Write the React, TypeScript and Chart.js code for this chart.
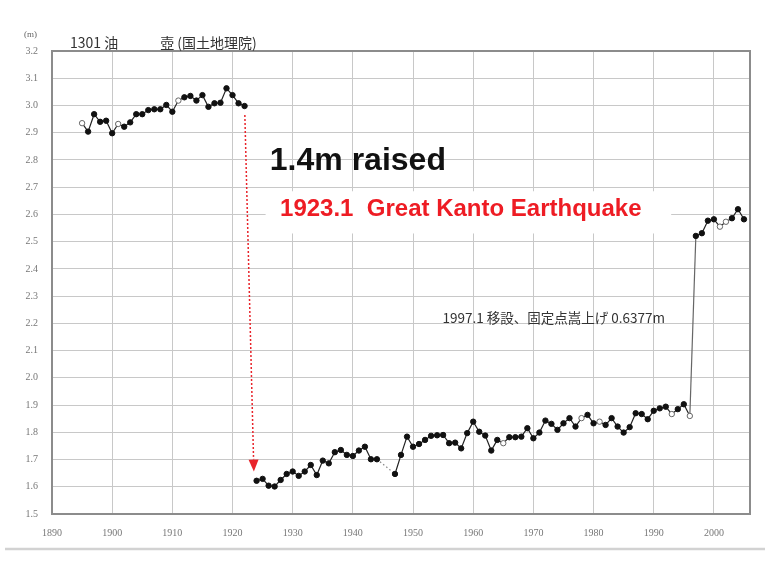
import React, { useEffect, useRef } from "react";
import { Chart, registerables } from "chart.js";

Chart.register(...registerables);

// ---- data ----
const preYears = [1895, 1896, 1897, 1898, 1899, 1900, 1901, 1902, 1903, 1904, 1905, 1906, 1907, 1908, 1909, 1910, 1911, 1912, 1913, 1914, 1915, 1916, 1917, 1918, 1919, 1920, 1921, 1922];
const preValues = [2.935, 2.904, 2.968, 2.94, 2.944, 2.898, 2.932, 2.922, 2.938, 2.968, 2.968, 2.983, 2.986, 2.986, 3.002, 2.977, 3.018, 3.03, 3.035, 3.018, 3.038, 2.995, 3.008, 3.01, 3.063, 3.038, 3.008, 2.998];

const postYears = [1924, 1925, 1926, 1927, 1928, 1929, 1930, 1931, 1932, 1933, 1934, 1935, 1936, 1937, 1938, 1939, 1940, 1941, 1942, 1943, 1944, 1947, 1948, 1949, 1950, 1951, 1952, 1953, 1954, 1955, 1956, 1957, 1958, 1959, 1960, 1961, 1962, 1963, 1964, 1965, 1966, 1967, 1968, 1969, 1970, 1971, 1972, 1973, 1974, 1975, 1976, 1977, 1978, 1979, 1980, 1981, 1982, 1983, 1984, 1985, 1986, 1987, 1988, 1989, 1990, 1991, 1992, 1993, 1994, 1995, 1996, 1997, 1998, 1999, 2000, 2001, 2002, 2003, 2004, 2005];
const postValues = [1.622, 1.629, 1.604, 1.601, 1.625, 1.647, 1.656, 1.64, 1.656, 1.68, 1.643, 1.696, 1.686, 1.727, 1.735, 1.717, 1.713, 1.733, 1.747, 1.701, 1.701, 1.647, 1.717, 1.784, 1.747, 1.757, 1.772, 1.787, 1.789, 1.79, 1.76, 1.762, 1.741, 1.797, 1.839, 1.802, 1.788, 1.733, 1.772, 1.76, 1.782, 1.782, 1.784, 1.815, 1.778, 1.799, 1.843, 1.831, 1.809, 1.833, 1.852, 1.821, 1.852, 1.864, 1.833, 1.839, 1.827, 1.852, 1.821, 1.799, 1.819, 1.87, 1.867, 1.848, 1.879, 1.888, 1.894, 1.867, 1.885, 1.903, 1.86, 2.521, 2.531, 2.577, 2.582, 2.555, 2.573, 2.586, 2.619, 2.582];

// years whose marker is drawn open (white)
const openYears = [1895, 1901, 1911, 1965, 1978, 1981, 1993, 1996, 2001, 2002];

const xMin = 1890;
const xMax = 2006;
const xStep = 10;
const yMin = 1.5;
const yMax = 3.2;
const yStep = 0.1;

const unitText = "(m)";
const titleText = "1301 油　　　壺 (国土地理院)";
const raisedText = "1.4m raised";
const quakeText = "1923.1  Great Kanto Earthquake";
const noteText = "1997.1 移設、固定点嵩上げ 0.6377m";

// arrow endpoints (year, value)
const arrowFrom = [1922.05, 2.965];
const arrowTo = [1923.55, 1.656];

const toPoints = (xs: number[], ys: number[]) => xs.map((x, i) => ({ x, y: ys[i] }));

const annotationPlugin = {
  id: "annotations",
  beforeDatasetsDraw(chart: any) {
    const { ctx, scales } = chart;
    const xs = scales.x;
    const ys = scales.y;
    // white box behind the red caption
    ctx.save();
    ctx.fillStyle = "#ffffff";
    const l = xs.getPixelForValue(1925.5);
    const r = xs.getPixelForValue(1992.9);
    const t = ys.getPixelForValue(2.685);
    const b = ys.getPixelForValue(2.53);
    ctx.fillRect(l, t, r - l, b - t);
    ctx.restore();
  },
  afterDatasetsDraw(chart: any) {
    const { ctx, scales, chartArea } = chart;
    const xs = scales.x;
    const ys = scales.y;
    ctx.save();
    // frame
    ctx.strokeStyle = "#8c8c8c";
    ctx.lineWidth = 2;
    ctx.strokeRect(chartArea.left, chartArea.top, chartArea.right - chartArea.left, chartArea.bottom - chartArea.top);

    // red dashed arrow
    const x0 = xs.getPixelForValue(arrowFrom[0]);
    const y0 = ys.getPixelForValue(arrowFrom[1]);
    const x1 = xs.getPixelForValue(arrowTo[0]);
    const y1 = ys.getPixelForValue(arrowTo[1]);
    const ang = Math.atan2(y1 - y0, x1 - x0);
    const headLen = 12;
    const headW = 5;
    const bx = x1 - headLen * Math.cos(ang);
    const by = y1 - headLen * Math.sin(ang);
    ctx.strokeStyle = "#e8232a";
    ctx.lineWidth = 1.5;
    ctx.setLineDash([2, 2]);
    ctx.beginPath();
    ctx.moveTo(x0, y0);
    ctx.lineTo(bx, by);
    ctx.stroke();
    ctx.setLineDash([]);
    ctx.fillStyle = "#e8232a";
    ctx.beginPath();
    ctx.moveTo(x1, y1);
    ctx.lineTo(bx + headW * Math.sin(ang), by - headW * Math.cos(ang));
    ctx.lineTo(bx - headW * Math.sin(ang), by + headW * Math.cos(ang));
    ctx.closePath();
    ctx.fill();

    // big black caption
    ctx.fillStyle = "#111111";
    ctx.font = "bold 32px 'Liberation Sans', Arial, sans-serif";
    ctx.textBaseline = "alphabetic";
    ctx.textAlign = "left";
    ctx.fillText(raisedText, xs.getPixelForValue(1926.2), ys.getPixelForValue(2.762));

    // red caption
    ctx.fillStyle = "#ee1c24";
    ctx.font = "bold 24px 'Liberation Sans', Arial, sans-serif";
    ctx.fillText(quakeText, xs.getPixelForValue(1927.9), ys.getPixelForValue(2.595));

    // note
    ctx.fillStyle = "#333333";
    ctx.font = "13.5px 'Noto Sans CJK JP', sans-serif";
    ctx.textBaseline = "middle";
    ctx.fillText(noteText, xs.getPixelForValue(1954.9), ys.getPixelForValue(2.22));

    // title and unit above the plot
    ctx.fillStyle = "#333333";
    ctx.font = "14px 'Noto Sans CJK JP', sans-serif";
    ctx.textBaseline = "middle";
    ctx.fillText(titleText, 70, chartArea.top - 8);
    ctx.fillStyle = "#666666";
    ctx.font = "9px 'Liberation Serif', serif";
    ctx.fillText(unitText, 24, chartArea.top - 16);

    // bottom gray rule across the picture
    ctx.strokeStyle = "#d2d2d2";
    ctx.lineWidth = 2.5;
    ctx.beginPath();
    ctx.moveTo(5, 549);
    ctx.lineTo(765, 549);
    ctx.stroke();
    ctx.restore();
  },
};

export default function App() {
  const ref = useRef<HTMLCanvasElement | null>(null);

  useEffect(() => {
    if (!ref.current) return;
    const openSet = new Set(openYears);
    const bg = (c: any) => (c.raw && openSet.has(c.raw.x) ? "#ffffff" : "#111111");
    const bc = (c: any) => (c.raw && openSet.has(c.raw.x) ? "#666666" : "#111111");
    const common = {
      borderColor: "#222222",
      borderWidth: 1.2,
      pointRadius: 2.7,
      pointBorderWidth: 1,
      pointBackgroundColor: bg,
      pointBorderColor: bc,
      tension: 0,
      segment: {
        borderDash: (c: any) => (c.p1.parsed.x - c.p0.parsed.x > 1.5 && c.p1.parsed.y < 2 ? [1.5, 2.5] : undefined),
        borderColor: (c: any) => (c.p1.parsed.x - c.p0.parsed.x > 1.5 && c.p1.parsed.y < 2 ? "#888888" : (Math.abs(c.p1.parsed.y - c.p0.parsed.y) > 0.3 ? "#666666" : undefined)),
      },
    };
    const chart = new Chart(ref.current, {
      type: "line",
      data: {
        datasets: [
          { ...common, data: toPoints(preYears, preValues) } as any,
          { ...common, data: toPoints(postYears, postValues) } as any,
        ],
      },
      options: {
        animation: false,
        responsive: false,
        maintainAspectRatio: false,
        layout: { padding: { left: 0, right: 20, top: 51, bottom: 0 } },
        plugins: { legend: { display: false }, tooltip: { enabled: false }, title: { display: false } },
        scales: {
          x: {
            type: "linear",
            min: xMin,
            max: xMax,
            afterFit: (s: any) => {
              s.height = 63;
            },
            ticks: {
              stepSize: xStep,
              includeBounds: false,
              padding: 13,
              color: "#777777",
              font: { family: "'Liberation Serif', serif", size: 10 },
              callback: (v: any) => String(v),
            },
            grid: { color: "#c8c8c8", lineWidth: 1, drawTicks: false },
            border: { display: false },
          },
          y: {
            type: "linear",
            min: yMin,
            max: yMax,
            afterFit: (s: any) => {
              s.width = 52;
            },
            ticks: {
              stepSize: yStep,
              padding: 14,
              color: "#777777",
              font: { family: "'Liberation Serif', serif", size: 10 },
              callback: (v: any) => Number(v).toFixed(1),
            },
            grid: { color: "#c8c8c8", lineWidth: 1, drawTicks: false },
            border: { display: false },
          },
        },
      },
      plugins: [annotationPlugin],
    });
    return () => chart.destroy();
  }, []);

  return (
    <div style={{ position: "absolute", left: 0, top: 0, width: 770, height: 577, background: "#ffffff" }}>
      <canvas ref={ref} width={770} height={577} style={{ width: 770, height: 577, display: "block" }} />
    </div>
  );
}
